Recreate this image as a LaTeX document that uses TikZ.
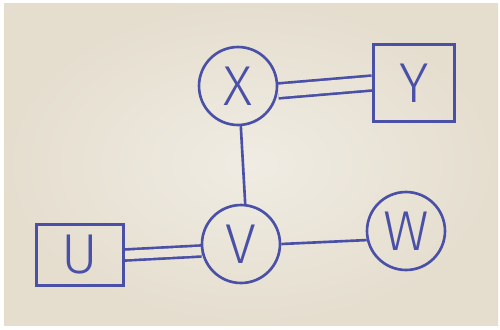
\documentclass[tikz,border=0pt]{standalone}
\usepackage{fontspec}
\newfontfamily\handfont{Fira Sans Light}
\definecolor{ink}{RGB}{74,80,168}
\definecolor{paper}{RGB}{233,228,215}
\definecolor{paperlight}{RGB}{240,236,227}
\definecolor{paperdark}{RGB}{229,222,207}
\pgfdeclarelayer{paperlayer}
\pgfdeclarelayer{background}
\pgfsetlayers{paperlayer,background,main}
\tikzset{
  pen/.style={draw=ink, line width=1.5pt},
  letter/.style={text=ink, font=\handfont\fontsize{32}{32}\selectfont},
  ring/.style={pen, letter, circle, inner sep=0pt, minimum size=1.56cm},
  boxnode/.style={pen, letter, rectangle, inner sep=0pt},
  single link/.style={pen},
  double link/.style={draw=ink, line width=1.5pt, double=paper},
}
\begin{document}
\begin{tikzpicture}[x=0.02cm, y=-0.02cm]
  \useasboundingbox (0,0) rectangle (500,329);

  % sheet of paper on a white ground
  \begin{pgfonlayer}{paperlayer}
    \fill[white] (0,0) rectangle (500,329);
    \shade[inner color=paperlight, outer color=paperdark] (4,3) rectangle (498,325);
  \end{pgfonlayer}

  % nodes
  \node[ring] (X) at (238,86) {X};
  \node[boxnode, minimum width=1.62cm, minimum height=1.54cm] (Y) at (414,83) {Y};
  \node[ring] (V) at (241,244) {V};
  \node[ring] (W) at (406,231) {W};
  \node[boxnode, minimum width=1.74cm, minimum height=1.22cm] (U) at (80,255) {\raisebox{-3pt}{U}};

  % connectors
  \begin{pgfonlayer}{background}
    \draw[double link, double distance=7pt] (X.353) -- (Y.west);
    \draw[single link] (X.-86) -- (V.84);
    \draw[double link, double distance=4.8pt] (U.east) -- (V.190);
    \draw[single link] (V.east) -- (W.193);
  \end{pgfonlayer}
\end{tikzpicture}
\end{document}
